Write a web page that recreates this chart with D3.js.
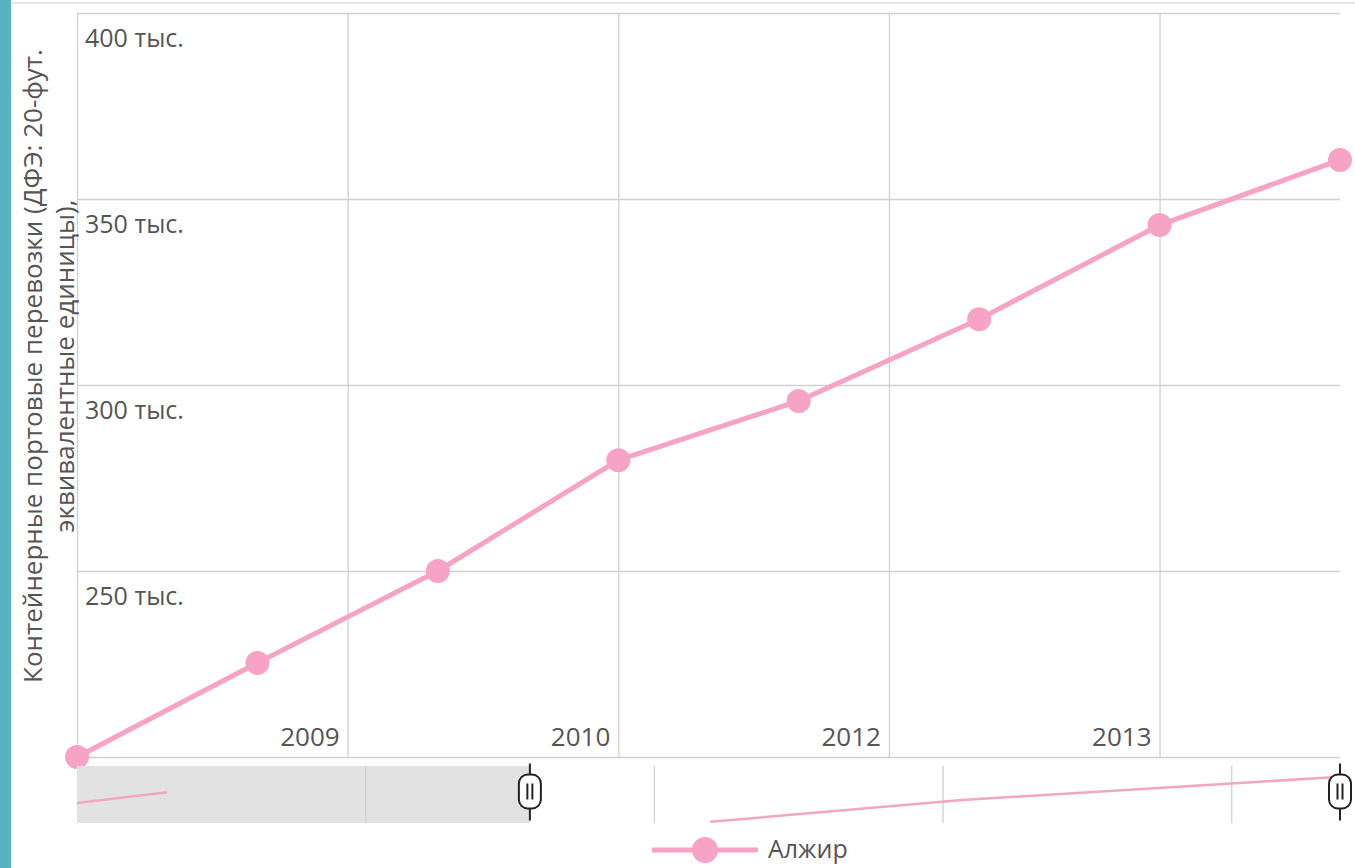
<!DOCTYPE html>
<html>
<head>
<meta charset="utf-8">
<script src="https://cdn.jsdelivr.net/npm/d3@7"></script>
<style>
  body { margin: 0; background: #fff; font-family: "Open Sans", sans-serif; }
  svg { display: block; }
</style>
</head>
<body>
<svg id="chart" width="1355" height="868"></svg>
<script>
// series: container port traffic, Algeria (TEU)
const seriesName = "Алжир";
const pointIndex = [0, 1, 2, 3, 4, 5, 6, 7];
const pointValues = [200000, 225300, 250000, 279800, 295700, 317700, 343000, 360500];

const yTicks = [250000, 300000, 350000, 400000];
const yTickLabels = ["250 тыс.", "300 тыс.", "350 тыс.", "400 тыс."];
const xTickPos = [1.5, 3, 4.5, 6];
const xTickLabels = ["2009", "2010", "2012", "2013"];

// navigator (overview) series, two pieces, arbitrary units 0..100
const navPieceA = [[0, 35], [0.5, 54]];
const navPieceB = [[3.51, 2], [4.89, 40], [7, 81]];
const navTickPos = [1.6, 3.2, 4.8, 6.4];
const navSelection = [0, 2.51];

const pink = "#f7a3c5";
const gridColor = "#d0d0d0";
const textColor = "#555";

const svg = d3.select("#chart");

const plot = { left: 77, right: 1340, top: 13, bottom: 757 };
const nav = { top: 766, bottom: 823 };

const x = d3.scaleLinear().domain([0, 7]).range([plot.left, plot.right]);
const y = d3.scaleLinear().domain([200000, 400000]).range([plot.bottom, plot.top]);
const navY = d3.scaleLinear().domain([0, 100]).range([nav.bottom, nav.top]);

// teal strip and faint top border
svg.append("rect").attr("x", 0).attr("y", 0).attr("width", 11).attr("height", 868).attr("fill", "#55b4bf");
svg.append("line").attr("x1", 11).attr("x2", 1355).attr("y1", 3).attr("y2", 3)
  .attr("stroke", "#e3e8ee").attr("stroke-width", 2);

// horizontal grid
svg.append("g")
  .attr("transform", `translate(${plot.left},0)`)
  .call(d3.axisLeft(y).tickValues([200000, ...yTicks]).tickSize(-(plot.right - plot.left)).tickFormat(""))
  .call(g => g.select(".domain").remove())
  .call(g => g.selectAll("line").attr("stroke", gridColor).attr("stroke-width", 1.3));

// vertical grid
svg.append("g")
  .attr("transform", `translate(0,${plot.bottom})`)
  .call(d3.axisBottom(x).tickValues([0, ...xTickPos]).tickSize(-(plot.bottom - plot.top)).tickFormat(""))
  .call(g => g.select(".domain").remove())
  .call(g => g.selectAll("line").attr("stroke", gridColor).attr("stroke-width", 1.3));

// y tick labels, inside plot below gridline
svg.append("g").selectAll("text")
  .data(yTicks)
  .join("text")
  .attr("x", plot.left + 8)
  .attr("y", (d) => y(d) + 34)
  .attr("fill", textColor)
  .attr("font-size", 25)
  .text((d, i) => yTickLabels[i]);

// x tick labels, left of gridline above axis
svg.append("g").selectAll("text")
  .data(xTickPos)
  .join("text")
  .attr("x", (d) => x(d) - 8)
  .attr("y", plot.bottom - 11)
  .attr("text-anchor", "end")
  .attr("fill", textColor)
  .attr("font-size", 26)
  .text((d, i) => xTickLabels[i]);

// y axis title
const title = svg.append("text")
  .attr("transform", `translate(42,366) rotate(-90)`)
  .attr("text-anchor", "middle")
  .attr("fill", textColor)
  .attr("font-size", 26);
title.append("tspan").attr("x", 0).attr("dy", 0).text("Контейнерные портовые перевозки (ДФЭ: 20-фут.");
title.append("tspan").attr("x", 0).attr("dy", 32).text("эквивалентные единицы),");

// main line
const data = pointIndex.map((d, i) => ({ i: d, v: pointValues[i] }));
svg.append("path")
  .datum(data)
  .attr("fill", "none")
  .attr("stroke", pink)
  .attr("stroke-width", 5)
  .attr("stroke-linejoin", "round")
  .attr("d", d3.line().x((d) => x(d.i)).y((d) => y(d.v)));

svg.append("g").selectAll("circle")
  .data(data)
  .join("circle")
  .attr("cx", (d) => x(d.i))
  .attr("cy", (d) => y(d.v))
  .attr("r", 12)
  .attr("fill", pink);

// navigator
svg.append("rect")
  .attr("x", x(navSelection[0])).attr("y", nav.top)
  .attr("width", x(navSelection[1]) - x(navSelection[0])).attr("height", nav.bottom - nav.top)
  .attr("fill", "#e2e2e2");

svg.append("g").selectAll("line")
  .data(navTickPos)
  .join("line")
  .attr("x1", (d) => x(d)).attr("x2", (d) => x(d))
  .attr("y1", nav.top).attr("y2", nav.bottom)
  .attr("stroke", gridColor).attr("stroke-width", 1.3);

const navLine = d3.line().x((d) => x(d[0])).y((d) => navY(d[1]));
for (const piece of [navPieceA, navPieceB]) {
  svg.append("path")
    .datum(piece)
    .attr("fill", "none")
    .attr("stroke", "#f2a6c0")
    .attr("stroke-width", 2.5)
    .attr("d", navLine);
}

// handles
const handles = svg.append("g").selectAll("g")
  .data([navSelection[1], 7])
  .join("g")
  .attr("transform", (d) => `translate(${x(d)},${(nav.top + nav.bottom) / 2 - 3})`);
handles.append("line").attr("y1", -28).attr("y2", 29).attr("stroke", "#222").attr("stroke-width", 2);
handles.append("rect")
  .attr("x", -11).attr("y", -17).attr("width", 22).attr("height", 34).attr("rx", 9)
  .attr("fill", "#fff").attr("stroke", "#222").attr("stroke-width", 2);
handles.append("line").attr("x1", -2.5).attr("x2", -2.5).attr("y1", -8).attr("y2", 8).attr("stroke", "#222").attr("stroke-width", 2);
handles.append("line").attr("x1", 2.5).attr("x2", 2.5).attr("y1", -8).attr("y2", 8).attr("stroke", "#222").attr("stroke-width", 2);

// legend
const legend = svg.append("g").attr("transform", "translate(652,850)");
legend.append("line").attr("x1", 0).attr("x2", 106).attr("stroke", pink).attr("stroke-width", 5);
legend.append("circle").attr("cx", 53).attr("r", 13).attr("fill", pink);
legend.append("text").attr("x", 116).attr("y", 8).attr("fill", textColor).attr("font-size", 25).text(seriesName);
</script>
</body>
</html>
